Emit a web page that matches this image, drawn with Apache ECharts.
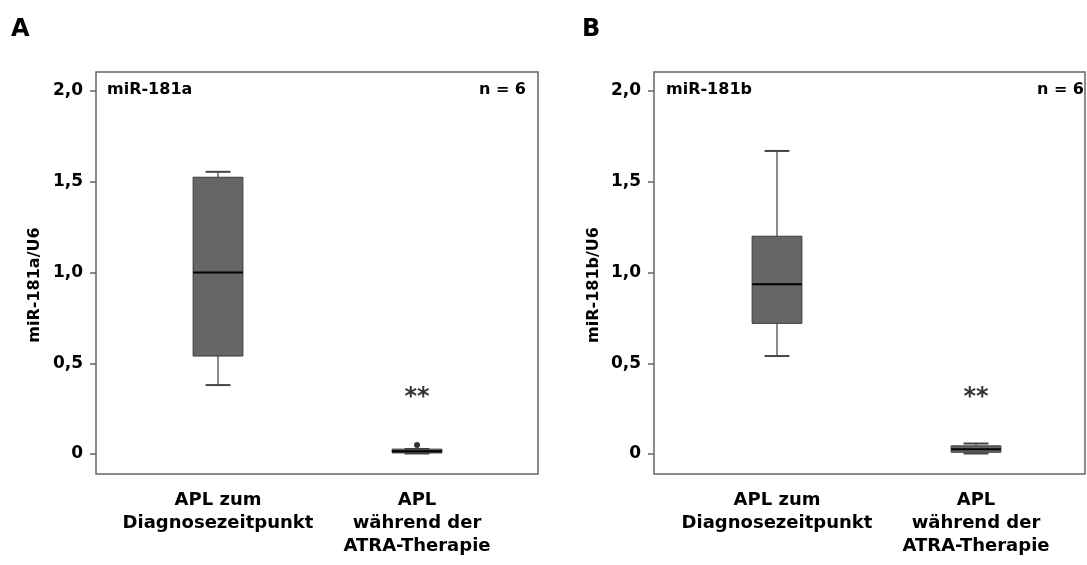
<!DOCTYPE html>
<html><head><meta charset="utf-8">
<script src="https://cdn.jsdelivr.net/npm/echarts@6/dist/echarts.min.js"></script>
<style>html,body{margin:0;padding:0;background:#fff}#c{width:1087px;height:565px}</style>
</head><body><div id="c"></div>
<script>
const categories = ['APL zum\nDiagnosezeitpunkt', 'APL\nwährend der\nATRA-Therapie'];
// [category index, lower whisker, Q1, median, Q3, upper whisker]
const boxA = [[0, 0.38, 0.54, 1.00, 1.525, 1.555], [1, 0.003, 0.006, 0.015, 0.027, 0.028]];
const boxB = [[0, 0.54, 0.72, 0.935, 1.20, 1.67], [1, 0.003, 0.010, 0.026, 0.045, 0.058]];
const outliersA = [[1, 0.05]];
const starsA = [[1, 0.31]];
const starsB = [[1, 0.31]];
const yTicks = [0, 0.5, 1.0, 1.5, 2.0];
const yMin = -0.11, yMax = 2.105;

const FONT = '"DejaVu Sans", Verdana, sans-serif';
const chart = echarts.init(document.getElementById('c'), null, {renderer: 'canvas'});

function renderBox(params, api) {
  const x = api.value(0);
  const band = api.size([1, 0])[0];
  const bw = band * 0.25, cw = band * 0.125;
  const pLo = api.coord([x, api.value(1)]);
  const pQ1 = api.coord([x, api.value(2)]);
  const pMed = api.coord([x, api.value(3)]);
  const pQ3 = api.coord([x, api.value(4)]);
  const pHi = api.coord([x, api.value(5)]);
  const cx = pMed[0];
  const wStyle = {stroke: '#666', lineWidth: 1.5};
  const cStyle = {stroke: '#444', lineWidth: 2};
  return {
    type: 'group',
    children: [
      {type: 'line', shape: {x1: cx, y1: pLo[1], x2: cx, y2: pQ1[1]}, style: wStyle},
      {type: 'line', shape: {x1: cx, y1: pQ3[1], x2: cx, y2: pHi[1]}, style: wStyle},
      {type: 'line', shape: {x1: cx - cw / 2, y1: pLo[1], x2: cx + cw / 2, y2: pLo[1]}, style: cStyle},
      {type: 'line', shape: {x1: cx - cw / 2, y1: pHi[1], x2: cx + cw / 2, y2: pHi[1]}, style: cStyle},
      {type: 'rect', shape: {x: cx - bw / 2, y: pQ3[1], width: bw, height: Math.max(pQ1[1] - pQ3[1], 1)},
        style: {fill: '#666666', stroke: '#3a3a3a', lineWidth: 1}},
      {type: 'line', shape: {x1: cx - bw / 2, y1: pMed[1], x2: cx + bw / 2, y2: pMed[1]},
        style: {stroke: '#000', lineWidth: 2}}
    ]
  };
}

function yFmt(v) { return v === 0 ? '0' : v.toFixed(1).replace('.', ','); }

const frameGrids = [
  {left: 96, right: 549, top: 72, bottom: 91, show: true, borderColor: '#666', borderWidth: 1.5, backgroundColor: 'transparent'},
  {left: 654, right: 2, top: 72, bottom: 91, show: true, borderColor: '#666', borderWidth: 1.5, backgroundColor: 'transparent'}
];
const dataGrids = [
  {left: 118.5, right: 570.5, top: 72, bottom: 91},
  {left: 677.5, right: 11.5, top: 72, bottom: 91}
];

const xAxes = [], yAxes = [];
// frame grids 0,1 ; data grids 2,3
for (let i = 0; i < 2; i++) {
  xAxes.push({gridIndex: i, type: 'value', show: false, min: 0, max: 1});
  yAxes.push({gridIndex: i, type: 'value', min: yMin, max: yMax,
    axisLine: {show: false},
    axisTick: {show: true, inside: false, length: 6, customValues: yTicks, lineStyle: {color: '#666', width: 1.5}},
    axisLabel: {customValues: yTicks, formatter: yFmt, margin: 13, fontFamily: FONT, fontWeight: 'bold', fontSize: 17, color: '#000'},
    splitLine: {show: false}});
}
for (let i = 0; i < 2; i++) {
  xAxes.push({gridIndex: 2 + i, type: 'category', data: categories, boundaryGap: true,
    axisLine: {show: false}, axisTick: {show: false},
    axisLabel: {margin: 15, fontFamily: FONT, fontWeight: 'bold', fontSize: 18, lineHeight: 23, color: '#000', interval: 0}});
  yAxes.push({gridIndex: 2 + i, type: 'value', min: yMin, max: yMax, show: false});
}

const starLabel = {show: true, formatter: '**', position: 'inside', fontFamily: FONT, fontWeight: 'bold', fontSize: 24, color: '#000'};

const option = {
  animation: false,
  backgroundColor: '#fff',
  grid: frameGrids.concat(dataGrids),
  xAxis: xAxes,
  yAxis: yAxes,
  series: [
    {type: 'custom', xAxisIndex: 2, yAxisIndex: 2, renderItem: renderBox, data: boxA, encode: {x: 0, y: [1, 2, 3, 4, 5]}},
    {type: 'custom', xAxisIndex: 3, yAxisIndex: 3, renderItem: renderBox, data: boxB, encode: {x: 0, y: [1, 2, 3, 4, 5]}},
    {type: 'scatter', xAxisIndex: 2, yAxisIndex: 2, data: outliersA, symbolSize: 6, itemStyle: {color: '#000'}},
    {type: 'scatter', xAxisIndex: 2, yAxisIndex: 2, data: starsA, symbolSize: 1, itemStyle: {color: 'transparent'}, label: starLabel},
    {type: 'scatter', xAxisIndex: 3, yAxisIndex: 3, data: starsB, symbolSize: 1, itemStyle: {color: 'transparent'}, label: starLabel}
  ],
  graphic: [
    {type: 'text', left: 11, top: 18, style: {text: 'A', font: 'bold 24px ' + FONT, fill: '#000'}},
    {type: 'text', left: 582, top: 18, style: {text: 'B', font: 'bold 24px ' + FONT, fill: '#000'}},
    {type: 'text', x: 35, y: 285, rotation: Math.PI / 2, style: {text: 'miR-181a/U6', font: 'bold 16px ' + FONT, fill: '#000', align: 'center', verticalAlign: 'middle'}},
    {type: 'text', x: 594, y: 285, rotation: Math.PI / 2, style: {text: 'miR-181b/U6', font: 'bold 16px ' + FONT, fill: '#000', align: 'center', verticalAlign: 'middle'}},
    {type: 'text', left: 107, top: 82, style: {text: 'miR-181a', font: 'bold 16px ' + FONT, fill: '#000'}},
    {type: 'text', right: 1087 - 526, top: 82, style: {text: 'n = 6', font: 'bold 16px ' + FONT, fill: '#000'}},
    {type: 'text', left: 666, top: 82, style: {text: 'miR-181b', font: 'bold 16px ' + FONT, fill: '#000'}},
    {type: 'text', right: 3, top: 82, style: {text: 'n = 6', font: 'bold 16px ' + FONT, fill: '#000'}}
  ]
};
chart.setOption(option);
</script></body></html>
